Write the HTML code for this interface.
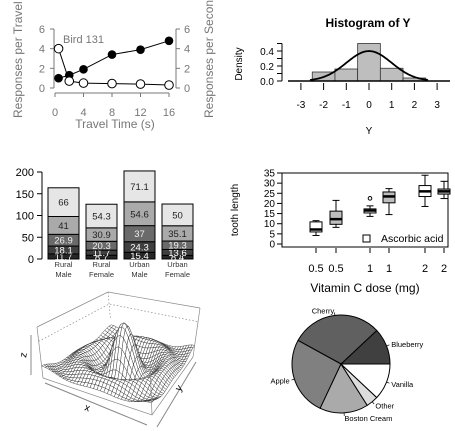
<!DOCTYPE html>
<html><head><meta charset="utf-8">
<style>
html,body{margin:0;padding:0;background:#fff;}
svg{display:block;font-family:"Liberation Sans",Arial,sans-serif;}
</style></head>
<body>
<svg id="s" width="455" height="431" viewBox="0 0 455 431" xmlns="http://www.w3.org/2000/svg">
<g id="p1"></g>
<g id="p2"></g>
<g id="p3"></g>
<g id="p4"></g>
<g id="p5"></g>
<g id="p6"></g>
</svg>
<script>
// ---- Panel 1 data
const travelTimes = [0.5, 2, 4, 8, 12, 16];
const filledSeries = [1.0, 1.3, 1.9, 3.4, 3.9, 4.8];
const openSeries = [4.0, 0.7, 0.5, 0.45, 0.4, 0.3];
const p1XTicks = [0, 4, 8, 12, 16];
const p1YTicks = [0, 2, 4, 6];
// ---- Panel 2 data
const histBreaks = [-2.5, -1.5, -0.5, 0.5, 1.5, 2.5];
const histDensity = [0.12, 0.16, 0.5, 0.17, 0.04];
const histXTicks = [-3, -2, -1, 0, 1, 2, 3];
const histYTicks = [0, 0.1, 0.2, 0.3, 0.4, 0.5];
const histYLabels = [0, 0.2, 0.4];
// ---- Panel 3 data
const barCategories = [["Rural","Male"],["Rural","Female"],["Urban","Male"],["Urban","Female"]];
const barSeg1 = [11.7, 8.7, 15.4, 8.4];
const barSeg2 = [18.1, 11.7, 24.3, 13.6];
const barSeg3 = [26.9, 20.3, 37, 19.3];
const barSeg4 = [41, 30.9, 54.6, 35.1];
const barSeg5 = [66, 54.3, 71.1, 50];
const barYTicks = [0, 50, 100, 150, 200];
// ---- Panel 4 data
const boxLabels = ["0.5","0.5","1","1","2","2"];
const boxWhiskLow = [4.2, 8.2, 13.6, 14.5, 18.5, 22.4];
const boxQ1 = [5.95, 9.7, 15.3, 20.3, 23.4, 24.6];
const boxMedian = [7.15, 12.25, 16.5, 23.45, 25.95, 25.95];
const boxQ3 = [10.9, 16.2, 17.3, 25.65, 28.8, 27.1];
const boxWhiskHigh = [11.5, 21.5, 18.8, 27.3, 33.9, 30.9];
const boxOutliers = [[], [], [22.5], [], [], []];
const boxYTicks = [0, 5, 10, 15, 20, 25, 30, 35];
// ---- Panel 6 data
const pieNames = ["Blueberry","Cherry","Apple","Boston Cream","Other","Vanilla"];
const pieValues = [0.12, 0.30, 0.26, 0.16, 0.04, 0.12];

const NS = "http://www.w3.org/2000/svg";
function mk(parent, tag, attrs, text){
  const e = document.createElementNS(NS, tag);
  for (const k in attrs) e.setAttribute(k, attrs[k]);
  if (text !== undefined) e.textContent = text;
  parent.appendChild(e);
  return e;
}

// ================= Panel 1
(function(){
  const g = document.getElementById('p1');
  const xs = t => 55 + t * (114/16);
  const ys = v => 88 - v * (59/6);
  const gray = '#777';
  let e;
  e = mk(g,'line',{x1:54,y1:ys(0),x2:54,y2:ys(6),stroke:gray});
   
  e = mk(g,'line',{x1:176,y1:ys(0),x2:176,y2:ys(6),stroke:gray});
   
  e = mk(g,'line',{x1:xs(0),y1:93,x2:xs(16),y2:93,stroke:gray});
   
  p1YTicks.forEach(v=>{
    mk(g,'line',{x1:50,y1:ys(v),x2:54,y2:ys(v),stroke:gray});
    mk(g,'line',{x1:176,y1:ys(v),x2:180,y2:ys(v),stroke:gray});
    e = mk(g,'text',{x:45,y:ys(v)+4,'text-anchor':'end','font-size':11,fill:gray},String(v));
     
    e = mk(g,'text',{x:184,y:ys(v)+4,'font-size':11,fill:gray},String(v));
     
  });
  p1XTicks.forEach(t=>{
    mk(g,'line',{x1:xs(t),y1:93,x2:xs(t),y2:97,stroke:gray});
    e = mk(g,'text',{x:xs(t),y:116,'text-anchor':'middle','font-size':11,fill:gray},String(t));
     
  });
  e = mk(g,'text',{x:115,y:128,'text-anchor':'middle','font-size':12,fill:gray},'Travel Time (s)');
   
  e = mk(g,'text',{x:0,y:0,'font-size':12,fill:gray,transform:'translate(22,118) rotate(-90)'},'Responses per Travel Time');
   
  e = mk(g,'text',{x:0,y:0,'font-size':12,fill:gray,transform:'translate(213,118) rotate(-90)'},'Responses per Second');
   
  e = mk(g,'text',{x:63,y:43,'font-size':11,fill:gray},'Bird 131');
   
  e = mk(g,'polyline',{points:travelTimes.map((t,i)=>xs(t)+','+ys(filledSeries[i])).join(' '),fill:'none',stroke:'#000'});
   
  e = mk(g,'polyline',{points:travelTimes.map((t,i)=>xs(t)+','+ys(openSeries[i])).join(' '),fill:'none',stroke:'#000'});
   
  travelTimes.forEach((t,i)=>{
    e = mk(g,'circle',{cx:xs(t),cy:ys(filledSeries[i]),r:4.3,fill:'#000'});
     
  });
  travelTimes.forEach((t,i)=>{
    e = mk(g,'circle',{cx:xs(t),cy:ys(openSeries[i]),r:4.3,fill:'#fff',stroke:'#000'});
     
  });
})();

// ================= Panel 2
(function(){
  const g = document.getElementById('p2');
  const xs = v => 369 + v * 22.7;
  const ys = d => 81 - d * 75;
  let e;
  e = mk(g,'text',{x:368,y:27,'text-anchor':'middle','font-size':12,'font-weight':'bold'},'Histogram of Y');
   
  histDensity.forEach((d,i)=>{
    e = mk(g,'rect',{x:xs(histBreaks[i]),y:ys(d),width:xs(histBreaks[i+1])-xs(histBreaks[i]),height:ys(0)-ys(d),fill:'#bebebe',stroke:'#333','stroke-width':0.8});
     
  });
  e = mk(g,'line',{x1:288,y1:81,x2:450,y2:81,stroke:'#000','stroke-width':1.6});
   
  let pts=[];
  for(let v=-2.6; v<=2.61; v+=0.05){ pts.push(xs(v)+','+ys(Math.exp(-v*v/2)/Math.sqrt(2*Math.PI))); }
  e = mk(g,'polyline',{points:pts.join(' '),fill:'none',stroke:'#000','stroke-width':1.8});
   
  e = mk(g,'line',{x1:282,y1:ys(0),x2:282,y2:ys(0.5),stroke:'#000'});
   
  histYTicks.forEach(v=>mk(g,'line',{x1:277,y1:ys(v),x2:282,y2:ys(v),stroke:'#000'}));
  histYLabels.forEach(v=>{
    e = mk(g,'text',{x:274,y:ys(v)+4,'text-anchor':'end','font-size':10},v.toFixed(1));
     
  });
  histXTicks.forEach(v=>{
    mk(g,'line',{x1:xs(v),y1:83,x2:xs(v),y2:90,stroke:'#000'});
    e = mk(g,'text',{x:xs(v),y:108,'text-anchor':'middle','font-size':10},String(v));
     
  });
  e = mk(g,'text',{x:369,y:134,'text-anchor':'middle','font-size':10},'Y');
   
  e = mk(g,'text',{x:0,y:0,'text-anchor':'middle','font-size':10,transform:'translate(242,64) rotate(-90)'},'Density');
   
})();

// ================= Panel 3
(function(){
  const g = document.getElementById('p3');
  const ys = v => 259 - v * (87/200);
  const barX = i => 48 + i * 38;
  const bw = 31;
  const segs = [barSeg1, barSeg2, barSeg3, barSeg4, barSeg5];
  const fills = ['#262626','#3f3f3f','#6a6a6a','#aaaaaa','#e6e6e6'];
  const tcol = ['#fff','#fff','#eee','#222','#222'];
  let e;
  e = mk(g,'line',{x1:42,y1:ys(0),x2:42,y2:ys(200),stroke:'#000'});
   
  barYTicks.forEach(v=>{
    mk(g,'line',{x1:37,y1:ys(v),x2:42,y2:ys(v),stroke:'#000'});
    e = mk(g,'text',{x:34,y:ys(v)+4,'text-anchor':'end','font-size':11},String(v));
     
  });
  barCategories.forEach((c,i)=>{
    let cum = 0;
    segs.forEach((s,k)=>{
      const v = s[i];
      e = mk(g,'rect',{x:barX(i),y:ys(cum+v),width:bw,height:ys(cum)-ys(cum+v),fill:fills[k],stroke:'#000','stroke-width':1});
       
      e = mk(g,'text',{x:barX(i)+bw/2,y:ys(cum+v/2)+3.5,'text-anchor':'middle','font-size':9.5,fill:tcol[k]},String(v));
       
      cum += v;
    });
    e = mk(g,'text',{x:barX(i)+bw/2,y:267,'text-anchor':'middle','font-size':7.5,fill:'#333'},c[0]);
     
    e = mk(g,'text',{x:barX(i)+bw/2,y:277,'text-anchor':'middle','font-size':7.5,fill:'#333'},c[1]);
     
  });
})();

// ================= Panel 4
(function(){
  const g = document.getElementById('p4');
  const ys = v => 244 - v * (71/35);
  const bx = [316, 336, 370, 389, 425, 444];
  const hw = 6;
  let e;
  e = mk(g,'rect',{x:282,y:173,width:166,height:74,fill:'none',stroke:'#000'});
   
  boxYTicks.forEach(v=>{
    mk(g,'line',{x1:277,y1:ys(v),x2:282,y2:ys(v),stroke:'#000'});
    e = mk(g,'text',{x:275,y:ys(v)+3.5,'text-anchor':'end','font-size':10},String(v));
     
  });
  boxLabels.forEach((l,i)=>{
    const x = bx[i], fill = i%2===0 ? '#fff' : '#bebebe';
    mk(g,'line',{x1:x,y1:ys(boxWhiskLow[i]),x2:x,y2:ys(boxQ1[i]),stroke:'#000'});
    mk(g,'line',{x1:x,y1:ys(boxQ3[i]),x2:x,y2:ys(boxWhiskHigh[i]),stroke:'#000'});
    mk(g,'line',{x1:x-3.5,y1:ys(boxWhiskLow[i]),x2:x+3.5,y2:ys(boxWhiskLow[i]),stroke:'#000'});
    mk(g,'line',{x1:x-3.5,y1:ys(boxWhiskHigh[i]),x2:x+3.5,y2:ys(boxWhiskHigh[i]),stroke:'#000'});
    e = mk(g,'rect',{x:x-hw,y:ys(boxQ3[i]),width:2*hw,height:ys(boxQ1[i])-ys(boxQ3[i]),fill:fill,stroke:'#000'});
     
    e = mk(g,'line',{x1:x-hw,y1:ys(boxMedian[i]),x2:x+hw,y2:ys(boxMedian[i]),stroke:'#000','stroke-width':2.5});
     
    boxOutliers[i].forEach(o=>{
      e = mk(g,'circle',{cx:x,cy:ys(o),r:1.8,fill:'none',stroke:'#000'});
       
    });
    mk(g,'line',{x1:x,y1:248,x2:x,y2:253,stroke:'#000'});
    e = mk(g,'text',{x:x,y:272,'text-anchor':'middle','font-size':11},l);
     
  });
  e = mk(g,'rect',{x:363,y:235,width:7,height:7,fill:'#fff',stroke:'#000'});
   
  e = mk(g,'text',{x:381,y:242,'font-size':10.5},'Ascorbic acid');
   
  e = mk(g,'text',{x:365,y:292,'text-anchor':'middle','font-size':12},'Vitamin C dose (mg)');
   
  e = mk(g,'text',{x:0,y:0,'text-anchor':'middle','font-size':10,transform:'translate(238,210) rotate(-90)'},'tooth length');
   
})();

// ================= Panel 5 (3D surface)
(function(){
  const g = document.getElementById('p5');
  const B = {'00':[43,378],'10':[152,415],'11':[193,357],'01':[112,335]};
  const T = {'00':[37,327],'10':[150,364],'11':[200,308],'01':[108,292]};
  const bil = (C,x,y)=>[0,1].map(k=>C['00'][k]*(1-x)*(1-y)+C['10'][k]*x*(1-y)+C['11'][k]*x*y+C['01'][k]*(1-x)*y);
  const P = (x,y,z)=>{const b=bil(B,x,y),t=bil(T,x,y);return [b[0]+(t[0]-b[0])*z,b[1]+(t[1]-b[1])*z];};
  const s = p => p[0].toFixed(1)+','+p[1].toFixed(1);
  let e;
  e = mk(g,'path',{d:'M'+s(P(0,0,1))+'L'+s(P(0,1,1))+'L'+s(P(1,1,1)),fill:'none',stroke:'#888','stroke-width':0.7});
   
  e = mk(g,'path',{d:'M'+s(P(0,0,0.72))+'L'+s(P(0,1,0.72))+'L'+s(P(1,1,0.72))+'M'+s(P(0,1,1))+'L'+s(P(0,1,0.4)),fill:'none',stroke:'#888','stroke-width':0.7,'stroke-dasharray':'1.5,2'});
   
  const N=32, quads=[];
  const zf=(i,j)=>{const x=-10+20*i/N,y=-10+20*j/N;const r=Math.sqrt(x*x+y*y)||1e-6;return (Math.sin(r)/r+0.217)/1.217;};
  for(let i=0;i<N;i++)for(let j=0;j<N;j++) quads.push({i,j});
  quads.sort((a,b)=>(a.i-a.j)-(b.i-b.j));
  quads.forEach(q=>{
    const {i,j}=q;
    const c=[[i,j],[i+1,j],[i+1,j+1],[i,j+1]].map(([a,b])=>P(a/N,b/N,zf(a,b)));
    mk(g,'path',{d:'M'+c.map(s).join('L')+'Z',fill:'#fff',stroke:'#333','stroke-width':0.45});
  });
  e = mk(g,'path',{d:'M'+s(P(0,0,0))+'L'+s(P(1,0,0))+'L'+s(P(1,1,0))+'M'+s(P(0,0,0))+'L'+s(P(0,0,1))+'M'+s(P(1,0,0))+'L'+s(P(1,0,1))+'M'+s(P(1,1,0))+'L'+s(P(1,1,1)),fill:'none',stroke:'#888','stroke-width':0.7});
   
  e = mk(g,'line',{x1:45,y1:383,x2:147,y2:425,stroke:'#888'});
   
  e = mk(g,'line',{x1:157,y1:427,x2:196,y2:362,stroke:'#888'});
   
  e = mk(g,'line',{x1:31,y1:375,x2:31,y2:335,stroke:'#888'});
   
  e = mk(g,'text',{x:84,y:410,'font-size':10,transform:'rotate(18 84 410)'},'x');
   
  e = mk(g,'text',{x:180,y:392,'font-size':10,transform:'rotate(-55 180 392)'},'y');
   
  e = mk(g,'text',{x:26,y:358,'font-size':10,transform:'rotate(-80 26 358)'},'z');
   
})();

// ================= Panel 6 (pie)
(function(){
  const g = document.getElementById('p6');
  const cx=341, cy=364, r=49;
  const fills=['#404040','#606060','#808080','#aaaaaa','#dddddd','#ffffff'];
  const total = pieValues.reduce((a,b)=>a+b,0);
  let a0=0, e;
  pieValues.forEach((v,i)=>{
    const a1 = a0 + v/total*2*Math.PI;
    const p0=[cx+r*Math.cos(a0), cy-r*Math.sin(a0)], p1=[cx+r*Math.cos(a1), cy-r*Math.sin(a1)];
    const large = (a1-a0)>Math.PI?1:0;
    e = mk(g,'path',{d:`M${cx},${cy}L${p0[0]},${p0[1]}A${r},${r} 0 ${large} 0 ${p1[0]},${p1[1]}Z`,fill:fills[i],stroke:'#000','stroke-width':1});
     
    const am=(a0+a1)/2, ca=Math.cos(am), sa=Math.sin(am);
    mk(g,'line',{x1:cx+r*ca,y1:cy-r*sa,x2:cx+(r+3)*ca,y2:cy-(r+3)*sa,stroke:'#000','stroke-width':0.7});
    const lx=cx+(r+5)*ca, ly=cy-(r+5)*sa;
    e = mk(g,'text',{x:lx,y:ly+3,'font-size':7.5,'text-anchor':ca>0.05?'start':(ca<-0.05?'end':'middle')},pieNames[i]);
     
    a0=a1;
  });
})();
</script>
</body></html>
